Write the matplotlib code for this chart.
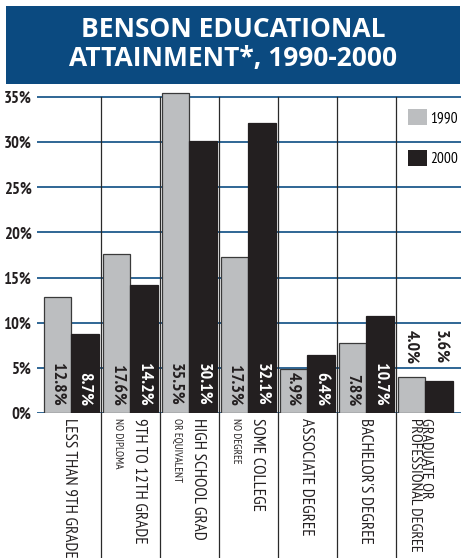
import matplotlib.pyplot as plt
from matplotlib.patches import Rectangle, Patch

# Datos de escolaridad en Benson
categories = ["LESS THAN 9TH GRADE", "9TH TO 12TH GRADE", "HIGH SCHOOL GRAD", "SOME COLLEGE",
              "ASSOCIATE DEGREE", "BACHELOR'S DEGREE", "GRADUATE OR\nPROFESSIONAL DEGREE"]
sublabels = ["", "NO DIPLOMA", "OR EQUIVALENT", "NO DEGREE", "", "", ""]
years = ["1990", "2000"]
v1990 = [12.8, 17.6, 35.5, 17.3, 4.9, 7.8, 4.0]
v2000 = [8.7, 14.2, 30.1, 32.1, 6.4, 10.7, 3.6]
yticks = [0, 5, 10, 15, 20, 25, 30, 35]

narrow = ["PT Sans Narrow", "Roboto Condensed", "DejaVu Sans"]

W, H = 461, 558
fig = plt.figure(figsize=(W / 100, H / 100), dpi=100)

# Banda del titulo
fig.patches.append(Rectangle((6 / W, 1 - 84 / H), 454 / W, 78 / H, transform=fig.transFigure,
                             facecolor="#0b4a80", edgecolor="none"))
fig.text(233 / W, 1 - 44 / H, "BENSON EDUCATIONAL\nATTAINMENT*, 1990-2000", color="white",
         fontsize=19, fontweight="bold", family="Open Sans", ha="center", va="center",
         linespacing=1.05)

ax = fig.add_axes([37 / W, (H - 413) / H, (W - 37) / W, (413 - 88) / H])
ax.set_xlim(-0.085, 7.10)
ax.set_ylim(0, 36)
for s in ax.spines.values():
    s.set_visible(False)

for t in yticks:
    ax.axhline(t, color="#1f5a8c", lw=1.3, zorder=1)

gray, black = "#bcbec0", "#231f20"
x = list(range(len(categories)))
ax.bar([i + 0.03 for i in x], v1990, width=0.46, align="edge", color=gray,
       edgecolor="#3a3a3a", linewidth=0.9, zorder=3)
ax.bar([i + 0.49 for i in x], v2000, width=0.47, align="edge", color=black,
       edgecolor=black, linewidth=0.9, zorder=3)

# Separadores entre grupos, bajan hasta las etiquetas
below = -(H - 413) / (413 - 88)
for i in range(1, len(categories)):
    ax.axvline(i, ymin=below, ymax=35 / 36, color="#2a2a2a", lw=0.9, clip_on=False, zorder=2)

# Etiquetas de valor
for i in x:
    for v, off, col in [(v1990[i], 0.26, black), (v2000[i], 0.725, "white")]:
        y = 0.8
        if i == len(categories) - 1:
            y, col = 5.4, black
        ax.text(i + off, y, f"{v:.1f}%", rotation=-90, ha="center", va="bottom",
                color=col, fontsize=13, fontweight="bold", family=narrow, zorder=4)

# Etiquetas de categoria
ytop = -5 / 9.03
for i, (cat, sub) in enumerate(zip(categories, sublabels)):
    if sub:
        ax.text(i + 0.65, ytop, cat, rotation=-90, ha="center", va="top", fontsize=12.3,
                family=narrow, color=black, clip_on=False)
        ax.text(i + 0.29, ytop, sub, rotation=-90, ha="center", va="top", fontsize=8,
                family=narrow, color=black, clip_on=False)
    elif "\n" in cat:
        ax.text(i + 0.42, ytop, cat, rotation=-90, ha="center", va="top", fontsize=11.6,
                family=narrow, color=black, clip_on=False, multialignment="left",
                linespacing=0.75)
    else:
        ax.text(i + 0.47, ytop, cat, rotation=-90, ha="center", va="top", fontsize=12.3,
                family=narrow, color=black, clip_on=False)

ax.set_xticks([])
ax.set_yticks(yticks)
ax.set_yticklabels([f"{t}%" for t in yticks], fontsize=12, fontweight="bold",
                   family=narrow, color=black)
ax.tick_params(axis="y", length=0, pad=4)

handles = [Patch(facecolor=gray, edgecolor="none"), Patch(facecolor=black, edgecolor="none")]
ax.legend(handles, years, loc="upper left", bbox_to_anchor=(408 / W, 1 - 109 / H),
          bbox_transform=fig.transFigure, frameon=False, borderpad=0, borderaxespad=0,
          handlelength=1.25, handleheight=1.25, handletextpad=0.2, labelspacing=1.6,
          prop={"family": narrow, "size": 11})

fig.savefig("out.png", dpi=100)
